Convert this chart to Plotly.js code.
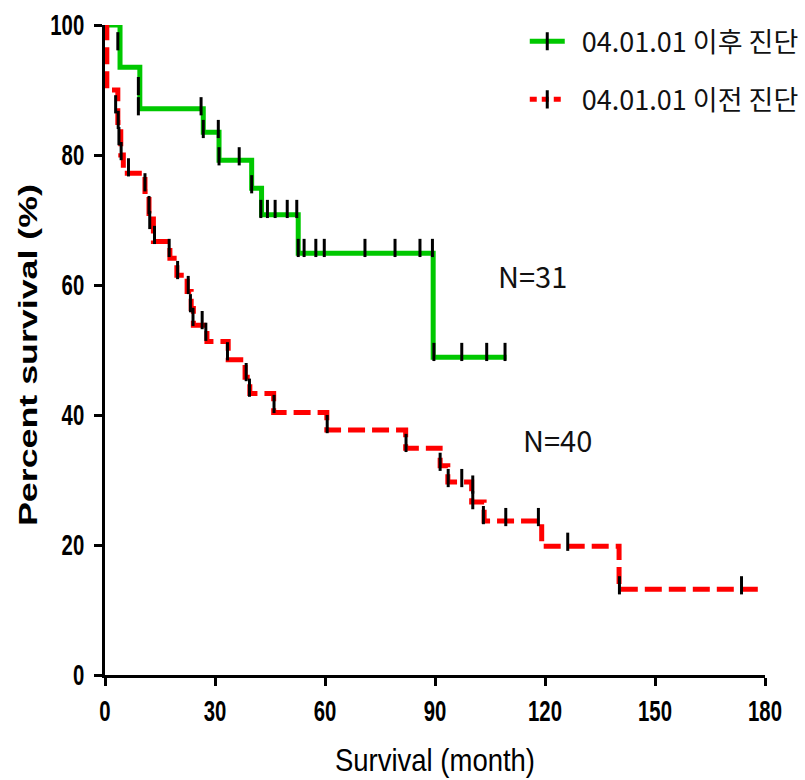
<!DOCTYPE html>
<html>
<head>
<meta charset="utf-8">
<script src="https://cdn.plot.ly/plotly-3.0.1.min.js"></script>
<style>html,body{margin:0;padding:0;background:#fff;}#chart{width:805px;height:780px;}</style>
</head>
<body>
<div id="chart"></div>
<script>
// Step curve of group diagnosed after 04.01.01 (N=31)
const afterTimes  = [0, 4.1, 9.5, 26.8, 31.1, 40.0, 42.7, 52.7, 89.5, 109.5];
const afterSurv   = [100, 93.5, 87.1, 83.5, 79.2, 74.9, 70.8, 64.9, 48.9, 48.9];
// Censor marks (after)
const afterCensT  = [3.5, 9.1, 9.1, 26.2, 26.8, 30.9, 31.1, 36.6, 40.0, 42.5, 44.3, 46.4, 49.7, 52.3, 52.7, 54.3, 57.5, 59.8, 70.9, 79.1, 85.9, 89.3, 89.7, 97.3, 104.1, 109.1];
const afterCensY  = [97.5, 90.6, 87.5, 87.5, 84.0, 84.0, 79.8, 79.8, 75.5, 71.7, 71.7, 71.7, 71.7, 71.7, 65.7, 65.7, 65.7, 65.7, 65.7, 65.7, 65.7, 65.7, 49.7, 49.7, 49.7, 49.7];

// Step curve of group diagnosed before 04.01.01 (N=40)
const beforeTimes = [0, 0.5, 3.5, 4.3, 5.0, 10.9, 12.0, 13.2, 17.7, 19.6, 22.4, 23.5, 24.1, 27.8, 33.6, 38.2, 39.5, 46.0, 60.5, 82.0, 91.4, 93.5, 100.0, 103.4, 119.1, 140.2, 179.5];
const beforeSurv  = [100, 90, 85, 80, 77.2, 74.4, 71, 66.7, 64.1, 61.5, 59, 56.4, 53.8, 51.3, 48.5, 45.8, 43.3, 40.4, 37.7, 34.9, 32.2, 29.7, 26.6, 23.7, 19.8, 13.2, 13.2];
const beforeCensT = [2.9, 3.6, 3.8, 4.4, 6.4, 10.9, 12.0, 12.2, 13.5, 17.5, 19.8, 22.7, 23.3, 24.0, 26.5, 27.5, 33.4, 38.5, 39.4, 46.1, 60.6, 82.1, 91.4, 93.6, 97.3, 100.3, 100.3, 103.2, 109.3, 118.2, 126.2, 140.3, 173.6];
const beforeCensY = [87.8, 85.4, 82.9, 80.6, 78.1, 75.8, 72.3, 70.0, 67.7, 65.7, 62.3, 60.0, 57.2, 55.1, 54.6, 52.8, 49.8, 46.6, 44.2, 41.7, 38.6, 35.7, 32.8, 30.3, 30.3, 29.3, 26.9, 24.6, 24.3, 24.3, 20.5, 13.8, 13.8];

const seriesNames = ['04.01.01 이후 진단', '04.01.01 이전 진단'];
const nLabels = ['N=31', 'N=40'];
const nLabelX = [116.7, 123.3];
const nLabelY = [61.6, 36.3];
const xTicks = [0, 30, 60, 90, 120, 150, 180];
const yTicks = [0, 20, 40, 60, 80, 100];

const GREEN = '#00c800';
const RED = '#ff0000';
const DASH = '17px,7px';
const tickMarker = {symbol: 'line-ns', size: 13, color: '#000', line: {color: '#000', width: 3}};

const traces = [
  {x: afterTimes, y: afterSurv, mode: 'lines', line: {color: GREEN, width: 5, shape: 'hv'}, showlegend: false, cliponaxis: false, hoverinfo: 'skip'},
  {x: beforeTimes, y: beforeSurv, mode: 'lines', line: {color: RED, width: 5, shape: 'hv', dash: DASH}, showlegend: false, cliponaxis: false, hoverinfo: 'skip'},
  {x: afterCensT, y: afterCensY, mode: 'markers', marker: tickMarker, showlegend: false, cliponaxis: false},
  {x: beforeCensT, y: beforeCensY, mode: 'markers', marker: tickMarker, showlegend: false, cliponaxis: false},
  // legend entries
  {x: [null], y: [null], name: '\u00a0\u00a0' + seriesNames[0], mode: 'lines+markers', line: {color: GREEN, width: 5}, marker: tickMarker, legendgroup: 'a'},
  {x: [null], y: [null], name: '\u00a0\u00a0' + seriesNames[1], mode: 'lines+markers', line: {color: RED, width: 5, dash: '7px,5px'}, marker: tickMarker, legendgroup: 'b'}
];

const sans = '"Liberation Sans", Arial, sans-serif';
const annotations = nLabels.map((t, i) => ({
  x: nLabelX[i], y: nLabelY[i], xref: 'x', yref: 'y', text: t, showarrow: false,
  xanchor: 'center', yanchor: 'middle',
  font: {family: '"Noto Sans CJK KR", "Noto Sans", sans-serif', size: 29, color: '#111'}
}));

const layout = {
  width: 805, height: 780,
  margin: {l: 105, r: 40, t: 25, b: 105, autoexpand: false},
  paper_bgcolor: '#fff', plot_bgcolor: '#fff',
  showlegend: true,
  legend: {
    x: 0.636, y: 1.012, xanchor: 'left', yanchor: 'top',
    font: {family: '"Noto Sans CJK KR", "Noto Sans", sans-serif', size: 27, color: '#111'},
    traceorder: 'grouped', tracegroupgap: 20, bgcolor: 'rgba(0,0,0,0)', itemwidth: 35
  },
  xaxis: {
    range: [0, 180], tickvals: xTicks, showgrid: false, zeroline: false,
    showline: true, linecolor: '#000', linewidth: 3,
    ticks: 'outside', ticklen: 8, tickwidth: 3, tickcolor: '#000',
    tickfont: {family: sans, size: 29, weight: 'bold', color: '#000'},
    ticklabelstandoff: 0,
    title: {text: 'Survival (month)', font: {family: sans, size: 32, color: '#000'}, standoff: 23}
  },
  yaxis: {
    range: [0, 100], tickvals: yTicks, showgrid: false, zeroline: false,
    showline: true, linecolor: '#000', linewidth: 3,
    ticks: 'outside', ticklen: 8, tickwidth: 3, tickcolor: '#000',
    tickfont: {family: sans, size: 29, weight: 'bold', color: '#000'},
    ticklabelstandoff: 4,
    title: {text: 'Percent survival (%)', font: {family: sans, size: 25, weight: 'bold', color: '#000'}, standoff: 4}
  },
  annotations: annotations
};

function squeeze(sel, fn) {
  document.querySelectorAll(sel).forEach(t => {
    const w = t.getComputedTextLength();
    if (w > 0) {
      t.setAttribute('textLength', fn(w));
      t.setAttribute('lengthAdjust', 'spacingAndGlyphs');
    }
  });
}

Plotly.newPlot('chart', traces, layout, {displayModeBar: false, staticPlot: true}).then(() => {
  // the reference's type is condensed (narrow, tall glyphs)
  squeeze('.xtick text, .ytick text', w => w * 0.7);
  squeeze('.g-xtitle text', () => 200);
  squeeze('.g-ytitle text', () => 342);
  const yt = document.querySelector('.g-ytitle');
  if (yt) yt.setAttribute('transform', 'translate(12,5)');
});
</script>
</body>
</html>
